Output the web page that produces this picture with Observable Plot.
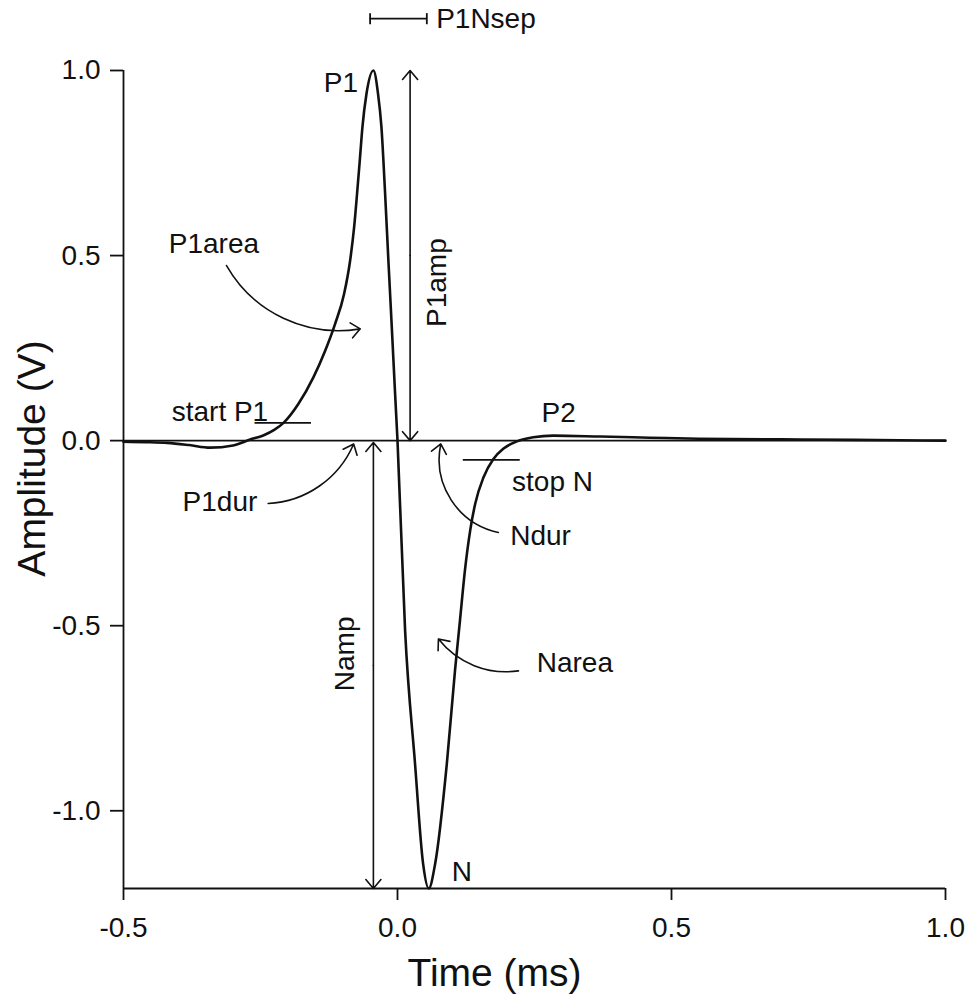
<!DOCTYPE html>
<html>
<head>
<meta charset="utf-8">
<script src="https://cdn.jsdelivr.net/npm/d3@7"></script>
<script src="https://cdn.jsdelivr.net/npm/@observablehq/plot@0.6"></script>
<style>
  html, body { margin: 0; padding: 0; background: #fff; }
</style>
</head>
<body>
<div id="chart"></div>
<script>
// ---- waveform ----
const timeMs = [-0.5, -0.46, -0.42, -0.38, -0.342, -0.30, -0.269, -0.245, -0.225, -0.208, -0.181, -0.1535, -0.132, -0.114, -0.0975, -0.0865, -0.0792, -0.0738, -0.0688, -0.064, -0.0566, -0.044, -0.0355, -0.0293, -0.0226, -0.0166, -0.0104, -0.0044, 0.0, 0.0139, 0.032, 0.0467, 0.057, 0.0687, 0.090, 0.105, 0.114, 0.123, 0.1326, 0.1417, 0.157, 0.175, 0.193, 0.218, 0.248, 0.284, 0.37, 0.46, 0.55, 0.735, 0.917, 1.0];
const amplitudeV = [-0.003, -0.004, -0.006, -0.012, -0.019, -0.013, 0.003, 0.014, 0.029, 0.048, 0.099, 0.171, 0.243, 0.315, 0.396, 0.486, 0.576, 0.667, 0.757, 0.847, 0.937, 1.0, 0.937, 0.847, 0.667, 0.486, 0.306, 0.127, 0.0, -0.514, -0.873, -1.143, -1.21, -1.143, -0.873, -0.62, -0.486, -0.351, -0.243, -0.171, -0.099, -0.0495, -0.022, -0.002, 0.009, 0.0135, 0.011, 0.008, 0.005, 0.003, 0.001, 0.0];

// ---- axes ----
const xTicks = [-0.5, 0.0, 0.5, 1.0];
const yTicks = [-1.0, -0.5, 0.0, 0.5, 1.0];
const xDomain = [-0.5, 1.0];
const yDomain = [-1.21, 1.0];

// ---- annotation labels ----
const labelText   = ["P1", "N", "P2", "P1area", "start P1", "P1dur", "stop N", "Ndur", "Narea", "P1Nsep"];
const labelX      = [-0.072, 0.099, 0.263, -0.335, -0.324, -0.324, 0.209, 0.2056, 0.254, 0.0705];
const labelY      = [0.943, -1.189, 0.049, 0.53, 0.054, -0.165, -0.111, -0.257, -0.600, 1.14];
const labelAnchor = ["end", "start", "start", "middle", "middle", "middle", "start", "start", "start", "start"];
const labelLine   = ["bottom", "bottom", "bottom", "middle", "bottom", "middle", "middle", "middle", "middle", "middle"];

// rotated labels
const vLabelText = ["P1amp", "Namp"];
const vLabelX = [0.072, -0.096];
const vLabelY = [0.427, -0.576];

// double-headed vertical arrows
const dblX = [0.023, -0.044];
const dblTop = [1.0, -0.005];
const dblBottom = [0.0, -1.21];

// curved pointer arrows
const curveX1 = [-0.312, -0.236, 0.184, 0.2207];
const curveY1 = [0.473, -0.170, -0.248, -0.622];
const curveX2 = [-0.068, -0.080, 0.079, 0.0747];
const curveY2 = [0.302, -0.009, -0.009, -0.536];
const curveBend = [-35, -32, 45, 30];

// short horizontal markers (start P1, stop N)
const markX1 = [-0.260, 0.120];
const markX2 = [-0.157, 0.224];
const markY = [0.048, -0.052];

// P1Nsep bracket
const sepX = [-0.050, 0.0535];
const sepY = 1.14;
const sepCap = 0.015;

const wave = timeMs.map((t, i) => ({t, a: amplitudeV[i]}));
const labels = labelText.map((s, i) => ({s, x: labelX[i], y: labelY[i], anchor: labelAnchor[i], line: labelLine[i]}));
const vlabels = vLabelText.map((s, i) => ({s, x: vLabelX[i], y: vLabelY[i]}));
const dblUp = dblX.map((x, i) => ({x1: x, y1: (dblTop[i] + dblBottom[i]) / 2, x2: x, y2: dblTop[i]}));
const dblDown = dblX.map((x, i) => ({x1: x, y1: (dblTop[i] + dblBottom[i]) / 2, x2: x, y2: dblBottom[i]}));
const curves = curveX1.map((x, i) => ({x1: x, y1: curveY1[i], x2: curveX2[i], y2: curveY2[i], bend: curveBend[i]}));
const marks2 = markX1.map((x, i) => ({x1: x, x2: markX2[i], y: markY[i]}));
const sepCaps = sepX.map(x => ({x, y1: sepY - sepCap, y2: sepY + sepCap}));

const FONT = "'Liberation Sans', Arial, Helvetica, sans-serif";
const ink = "#111";

const labelMarks = [];
for (const ta of ["start", "middle", "end"]) {
  for (const la of ["top", "middle", "bottom"]) {
    const sub = labels.filter(d => d.anchor === ta && d.line === la);
    if (sub.length) labelMarks.push(Plot.text(sub, {x: "x", y: "y", text: "s", textAnchor: ta, lineAnchor: la, fontSize: 28, fill: ink}));
  }
}

const curveMarks = curves.map(c => Plot.arrow([c], {x1: "x1", y1: "y1", x2: "x2", y2: "y2", bend: c.bend, stroke: ink, strokeWidth: 1.6, headLength: 11, headAngle: 80}));

const chart = Plot.plot({
  width: 966,
  height: 997,
  marginLeft: 123,
  marginRight: 21,
  marginTop: 70,
  marginBottom: 109,
  x: {domain: xDomain},
  y: {domain: yDomain},
  style: {fontFamily: FONT, background: "#fff", color: ink, overflow: "visible"},
  marks: [
    Plot.ruleX([xDomain[0]], {stroke: ink, strokeWidth: 1.8}),
    Plot.ruleY([yDomain[0]], {stroke: ink, strokeWidth: 1.8}),
    Plot.ruleY([0], {stroke: ink, strokeWidth: 1.8}),
    Plot.axisX({ticks: xTicks, tickFormat: d => d.toFixed(1), tickSize: 12, tickPadding: 17, fontSize: 28, label: null, stroke: ink, strokeWidth: 1.8}),
    Plot.axisY({ticks: yTicks, tickFormat: d => d.toFixed(1), tickSize: 13, tickPadding: 10, fontSize: 28, label: null, stroke: ink, strokeWidth: 1.8}),
    Plot.text(["Time (ms)"], {frameAnchor: "bottom", textAnchor: "middle", lineAnchor: "bottom", dx: -40, dy: 97, fontSize: 39, fill: ink}),
    Plot.text(["Amplitude (V)"], {frameAnchor: "left", textAnchor: "middle", lineAnchor: "middle", dx: -91, dy: -21, rotate: -90, fontSize: 39, fill: ink}),
    Plot.line(wave, {x: "t", y: "a", curve: "monotone-x", stroke: ink, strokeWidth: 2.6}),
    Plot.ruleY(marks2, {x1: "x1", x2: "x2", y: "y", stroke: ink, strokeWidth: 1.8}),
    Plot.arrow(dblUp, {x1: "x1", y1: "y1", x2: "x2", y2: "y2", stroke: ink, strokeWidth: 1.6, headLength: 11, headAngle: 80}),
    Plot.arrow(dblDown, {x1: "x1", y1: "y1", x2: "x2", y2: "y2", stroke: ink, strokeWidth: 1.6, headLength: 11, headAngle: 80}),
    ...curveMarks,
    Plot.ruleY([sepY], {x1: sepX[0], x2: sepX[1], stroke: ink, strokeWidth: 1.8}),
    Plot.link(sepCaps, {x1: "x", x2: "x", y1: "y1", y2: "y2", stroke: ink, strokeWidth: 1.8}),
    ...labelMarks,
    Plot.text(vlabels, {x: "x", y: "y", text: "s", rotate: -90, fontSize: 28, fill: ink})
  ]
});
document.getElementById("chart").appendChild(chart);
</script>
</body>
</html>
